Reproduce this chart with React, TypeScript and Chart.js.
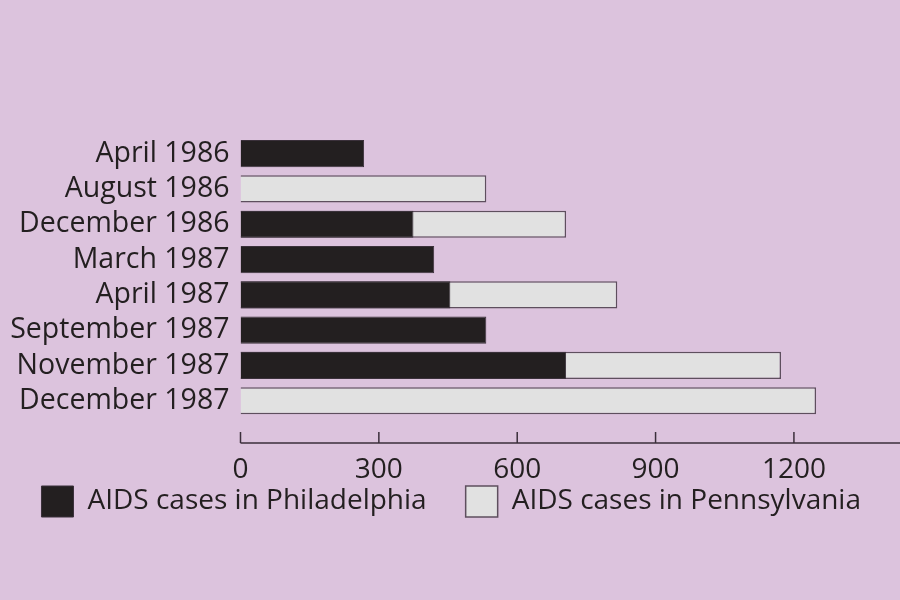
import { useEffect, useRef } from "react";
import Chart from "chart.js/auto";

const months = [
  "April 1986",
  "August 1986",
  "December 1986",
  "March 1987",
  "April 1987",
  "September 1987",
  "November 1987",
  "December 1987",
];
// Philadelphia drawn on top of the Pennsylvania bar
const philadelphia = [268, null, 375, 420, 455, 533, 706, null];
const pennsylvania = [null, 533, 706, null, 817, null, 1172, 1248];
const tickValues = [0, 300, 600, 900, 1200];

const FONT = "'Open Sans', sans-serif";
const INK = "#231f20";

// axis line sits a little below the last bar, with tick marks pointing up
const axisLine = {
  id: "axisLine",
  afterLayout(chart: any) {
    // let the tick labels hang below the (shortened) x scale box without clipping
    const xs = chart.scales.x;
    xs.bottom = xs.top + 80;
  },
  afterDraw(chart: any) {
    const { ctx, chartArea, scales } = chart;
    const xs = scales.x;
    const y0 = chartArea.bottom + 24.5;
    ctx.save();
    ctx.strokeStyle = "#3b2f3b";
    ctx.lineWidth = 1.5;
    ctx.beginPath();
    ctx.moveTo(xs.getPixelForValue(0), y0);
    ctx.lineTo(chart.width, y0);
    tickValues.forEach((v) => {
      const px = xs.getPixelForValue(v);
      ctx.moveTo(px, y0);
      ctx.lineTo(px, y0 - 11);
    });
    ctx.stroke();
    ctx.restore();
  },
};

const App = () => {
  const chartRef = useRef<HTMLCanvasElement | null>(null);
  const chartInstance = useRef<Chart | null>(null);

  useEffect(() => {
    if (!chartRef.current) return;
    if (chartInstance.current) chartInstance.current.destroy();

    chartInstance.current = new Chart(chartRef.current, {
      type: "bar",
      data: {
        labels: months,
        datasets: [
          {
            label: "AIDS cases in Philadelphia",
            data: philadelphia,
            backgroundColor: INK,
            borderColor: "#3a303a",
            borderWidth: 1,
          },
          {
            label: "AIDS cases in Pennsylvania",
            data: pennsylvania,
            backgroundColor: "#e1e1e1",
            borderColor: "#5e4f5e",
            borderWidth: 1.5,
          },
        ],
      },
      options: {
        indexAxis: "y",
        animation: false,
        responsive: false,
        layout: { padding: { top: 136, left: 0, right: 0, bottom: 73 } },
        datasets: { bar: { grouped: false, barPercentage: 0.77, categoryPercentage: 1 } },
        scales: {
          x: {
            min: 0,
            max: 1430,
            afterBuildTicks: (scale: any) => {
              scale.ticks = tickValues.map((v) => ({ value: v }));
            },
            afterFit: (scale: any) => {
              scale.height = 28.6;
            },
            grid: { display: false, drawTicks: false },
            border: { display: false },
            ticks: {
              color: INK,
              font: { family: FONT, size: 28 },
              padding: 35,
              maxRotation: 0,
              callback: (v: any) => String(v),
            },
          },
          y: {
            afterFit: (scale: any) => {
              scale.width = 240.5;
            },
            grid: { display: false, drawTicks: false },
            border: { display: false },
            ticks: {
              color: INK,
              font: { family: FONT, size: 28.5 },
              padding: 11,
              autoSkip: false,
            },
          },
        },
        plugins: {
          tooltip: { enabled: false },
          legend: {
            position: "bottom",
            align: "end",
            labels: {
              color: INK,
              font: { family: FONT, size: 28 },
              boxWidth: 32,
              boxHeight: 31,
              padding: 39,
              useBorderRadius: false,
            },
          },
        },
      },
      plugins: [axisLine],
    });

    return () => {
      if (chartInstance.current) {
        chartInstance.current.destroy();
        chartInstance.current = null;
      }
    };
  }, []);

  return (
    <div
      style={{
        position: "absolute",
        left: 0,
        top: 0,
        width: 900,
        height: 600,
        background: "#dcc3dd",
      }}
    >
      <canvas ref={chartRef} width={900} height={600} />
    </div>
  );
};

export default App;
